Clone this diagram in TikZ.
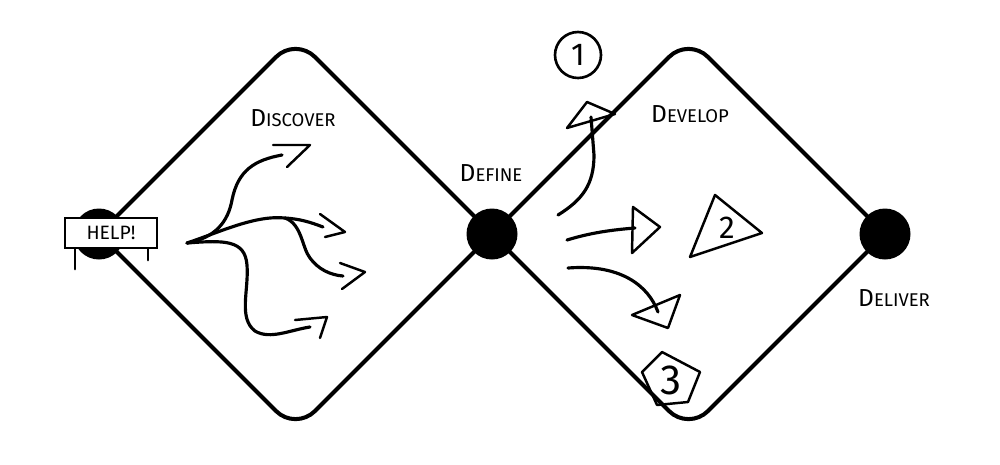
\documentclass[tikz,border=0pt]{standalone}
\usepackage{fontspec}
\setmainfont{Fira Sans}
\usetikzlibrary{backgrounds}
\newcommand\capword[2]{{\fontsize{14}{14}\selectfont #1}{\fontsize{10.5}{11}\selectfont #2}}
\tikzset{
  dot/.style={circle, fill=black, minimum size=1.02cm, inner sep=0pt},
  edge/.style={line width=2.3pt, rounded corners=0.55cm, line join=round},
  sketch/.style={line width=1.8pt, line cap=round, line join=round},
  head/.style={line width=1.4pt, line cap=round, line join=round},
  sign/.style={draw, fill=white, line width=1.3pt, minimum width=1.84cm, minimum height=0.6cm, inner sep=0pt, font=\fontsize{11}{11}\selectfont},
  num/.style={inner sep=0pt}
}
\begin{document}
\begin{tikzpicture}[x=0.02cm, y=-0.02cm]
\useasboundingbox (0,0) rectangle (1000,464);
\node[dot] (help) at (99,234) {};
\node[dot] (define) at (492,234) {};
\node[dot] (deliver) at (885,234) {};
\coordinate (top1) at (295.5,37.5);
\coordinate (bot1) at (295.5,430.5);
\coordinate (top2) at (688.5,37.5);
\coordinate (bot2) at (688.5,430.5);
% the two diamonds
\begin{scope}[on background layer]
\draw[edge] (help.center) -- (top1) -- (define.center);
\draw[edge] (help.center) -- (bot1) -- (define.center);
\draw[edge] (define.center) -- (top2) -- (deliver.center);
\draw[edge] (define.center) -- (bot2) -- (deliver.center);
\end{scope}
\node[sign] (sign) at (111,233) {HELP!};
\draw[head] ([xshift=0.22cm]sign.south west) -- ++(0,20);
\draw[head] ([xshift=-0.2cm]sign.south east) -- ++(0,11);
\node (discover) at (293,118) {\capword{D}{ISCOVER}};
\node (definelbl) at (491,173) {\capword{D}{EFINE}};
\node (develop) at (690,114) {\capword{D}{EVELOP}};
\node (deliverlbl) at (894,298) {\capword{D}{ELIVER}};
% discover arrows
\coordinate (src) at (187,243);
\coordinate (fork) at (285,218);
\draw[sketch] (src) .. controls (215,238) and (228,222) .. (232,200) .. controls (238,170) and (255,160) .. (282,155);
\draw[head] (273,145) -- (310,145) -- (287,167);
\draw[sketch] (src) .. controls (220,232) and (255,215) .. (fork) .. controls (300,219) and (310,222) .. (323,227);
\draw[head] (320,214) -- (345,232) -- (325,237);
\draw[sketch] (fork) .. controls (302,224) and (302,248) .. (310,258) .. controls (318,269) and (330,275) .. (343,276);
\draw[head] (340,263) -- (365,272) -- (342,289);
\draw[sketch] (src) .. controls (225,240) and (245,240) .. (247,265) .. controls (249,290) and (238,318) .. (255,331) .. controls (270,340) and (290,330) .. (310,327);
\draw[head] (295,320) -- (327,317) -- (320,338);
% develop arrows
\draw[sketch] (558,215) .. controls (582,200) and (594,185) .. (594,155) -- (591,117);
\draw[head] (587,102) -- (615,114) -- (567,128) -- cycle;
\draw[sketch] (567,240) .. controls (590,233) and (610,230) .. (635,228);
\draw[head] (633,207) -- (660,227) -- (632,253) -- cycle;
\draw[sketch] (568,268) .. controls (620,264) and (648,285) .. (658,312);
\draw[head] (680,295) -- (668,328) -- (632,315) -- cycle;
% numbered marks
\node[draw, circle, line width=1.5pt, minimum size=0.92cm, inner sep=0pt, font=\fontsize{18}{18}\selectfont] (one) at (578,55) {1};
\draw[head] (715,195) -- (762,233) -- (690,257) -- cycle;
\node[num, font=\fontsize{18}{18}\selectfont] (two) at (727,228) {2};
\draw[head] (662,352) -- (700,372) -- (688,402) -- (657,405) -- (642,372) -- cycle;
\node[num, font=\fontsize{24}{24}\selectfont] (three) at (671,380) {3};
\end{tikzpicture}
\end{document}
